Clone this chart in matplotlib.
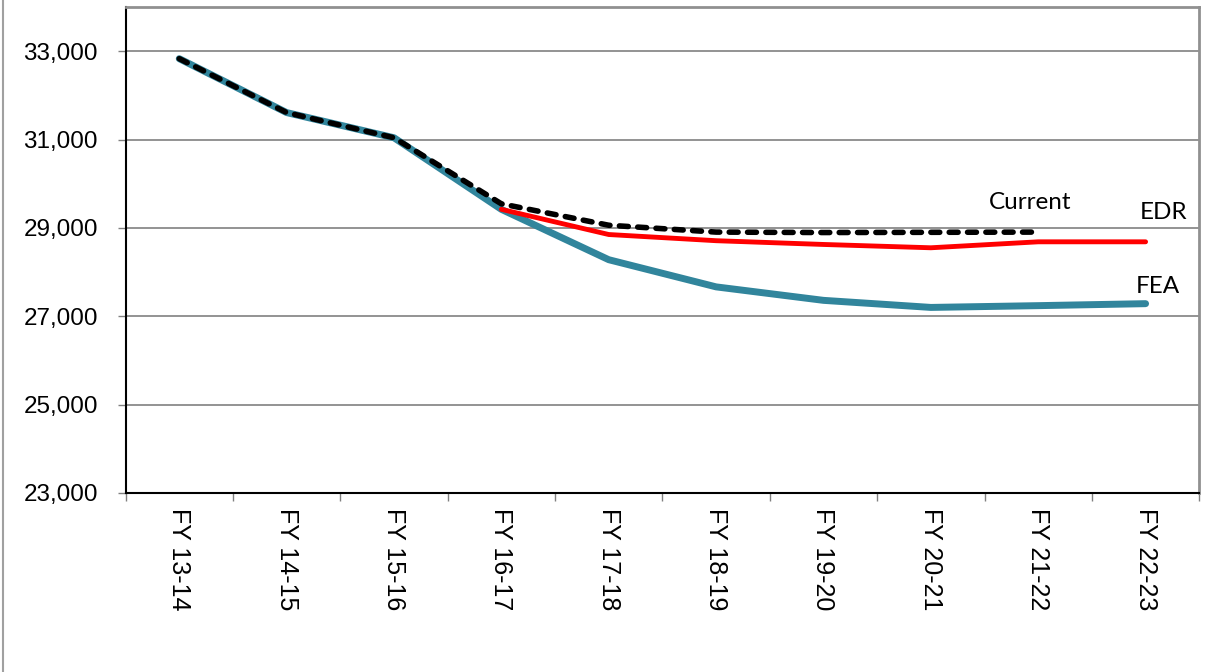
import numpy as np
import matplotlib.pyplot as plt
from matplotlib.lines import Line2D
from matplotlib.ticker import FuncFormatter

# Дані
years = ['FY 13-14', 'FY 14-15', 'FY 15-16', 'FY 16-17', 'FY 17-18',
         'FY 18-19', 'FY 19-20', 'FY 20-21', 'FY 21-22', 'FY 22-23']
fea = [32830, 31610, 31040, 29420, 28280, 27665, 27360, 27200, 27240, 27285]
edr = [None, None, None, 29420, 28850, 28710, 28625, 28550, 28685, 28685]
current = [32830, 31610, 31040, 29545, 29060, 28905, 28895, 28900, 28905, None]

labels = ['Current', 'EDR', 'FEA']
label_x = [7.92, 9.17, 9.11]
label_y = [29570, 29340, 27680]

x = np.arange(len(years))

def to_arr(v):
    return np.array([np.nan if a is None else a for a in v], dtype=float)

fig = plt.figure(figsize=(12.25, 6.72), dpi=100)
ax = fig.add_axes([0.1025, 0.2664, 0.8765, 0.7232])

ax.plot(x, to_arr(fea), color='#31859C', lw=5.0, solid_capstyle='round', zorder=3)
ax.plot(x, to_arr(edr), color='#FF0000', lw=3.5, solid_capstyle='round', zorder=4)
ax.plot(x, to_arr(current), color='black', lw=4.0, dashes=(1.6, 1.7),
        dash_capstyle='round', zorder=5)

for t, tx, ty in zip(labels, label_x, label_y):
    ax.text(tx, ty, t, ha='center', va='center', fontsize=17.5, family='Lato')

ax.set_xlim(-0.5, len(years) - 0.5)
ax.set_ylim(23000, 34000)
ax.set_yticks(np.arange(23000, 33001, 2000))
ax.yaxis.set_major_formatter(FuncFormatter(lambda v, p: f'{int(v):,}'))
ax.grid(axis='y', color='#808080', lw=1.2)
ax.set_axisbelow(True)

ax.set_xticks(x)
ax.set_xticklabels(years, rotation=270, family='Liberation Sans', fontsize=18)
ax.set_xticks(np.arange(-0.5, len(years), 1.0), minor=True)
ax.tick_params(axis='x', which='major', length=0, pad=11)
ax.tick_params(axis='x', which='minor', length=6, color='#808080', width=1)
ax.tick_params(axis='y', length=6, color='#808080', width=1, pad=14,
               labelsize=17.5)
for lab in ax.get_yticklabels():
    lab.set_family('Liberation Sans')

ax.spines['left'].set_color('black')
ax.spines['bottom'].set_color('black')
ax.spines['left'].set_linewidth(1.5)
ax.spines['bottom'].set_linewidth(1.5)
ax.spines['top'].set_color('#909090')
ax.spines['right'].set_color('#909090')
ax.spines['top'].set_linewidth(2)
ax.spines['right'].set_linewidth(2)

# рамка зліва
fig.add_artist(Line2D([0.0025, 0.0025], [0, 1], transform=fig.transFigure,
                      color='#a0a0a0', lw=1.5))

fig.savefig('out.png', dpi=100)
